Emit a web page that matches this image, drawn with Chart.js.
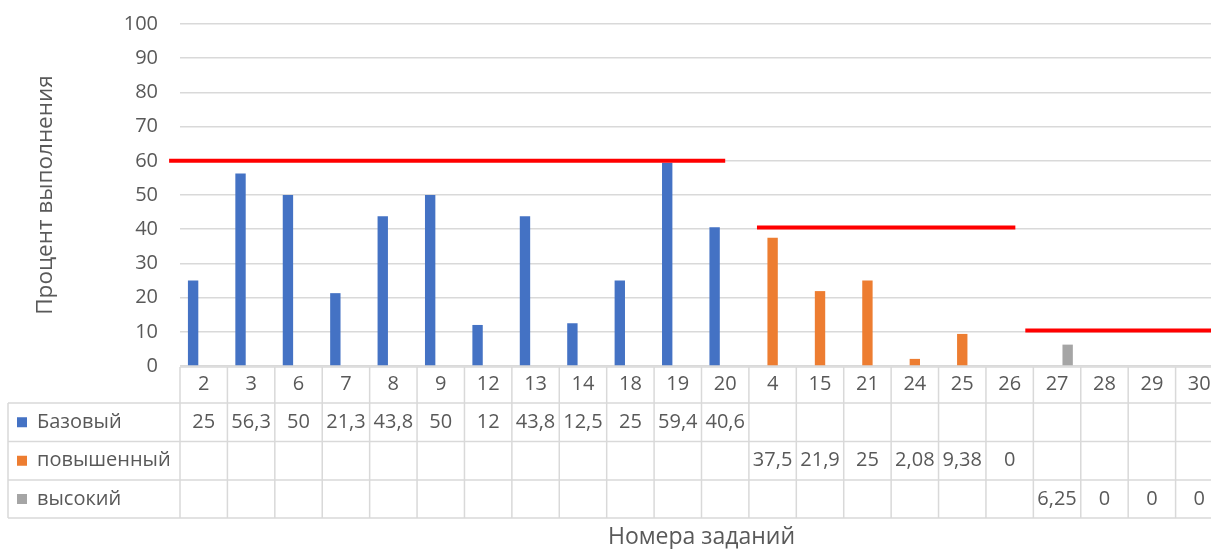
<!DOCTYPE html>
<html>
<head>
<meta charset="utf-8">
<script src="https://cdn.jsdelivr.net/npm/chart.js@4"></script>
<style>
  html, body { margin: 0; padding: 0; background: #fff; overflow: hidden; }
  #wrap { width: 1230px; height: 549px; position: relative; }
</style>
</head>
<body>
<div id="wrap"><canvas id="myChart"></canvas></div>
<script>
// номера заданий
var tasks = ["2","3","6","7","8","9","12","13","14","18","19","20","4","15","21","24","25","26","27","28","29","30"];
var baseVals = [25,56.3,50,21.3,43.8,50,12,43.8,12.5,25,59.4,40.6,null,null,null,null,null,null,null,null,null,null];
var highVals = [null,null,null,null,null,null,null,null,null,null,null,null,37.5,21.9,25,2.08,9.38,0,null,null,null,null];
var topVals  = [null,null,null,null,null,null,null,null,null,null,null,null,null,null,null,null,null,null,6.25,0,0,0];
var seriesNames = ["Базовый","повышенный","высокий"];
var yTicks = [0,10,20,30,40,50,60,70,80,90,100];

// red threshold lines (x in category index units)
var lineLevel = [60, 40.5, 10.4];
var lineStart = [-0.73, 11.67, 17.33];
var lineEnd   = [11.0, 17.12, 21.7];

var colors = ['#4472C4', '#ED7D31', '#A5A5A5'];
var txt = '#595959';
var fontFam = '"Open Sans", "Noto Sans", sans-serif';

function fmt(v) {
  return String(v).replace('.', ',');
}

// position for a fractional category index
function catPx(x, v) {
  var w = x.getPixelForValue(1) - x.getPixelForValue(0);
  return x.getPixelForValue(0) + v * w;
}

var redLines = {
  id: 'redLines',
  afterDatasetsDraw: function(chart) {
    var ctx = chart.ctx, x = chart.scales.x, y = chart.scales.y;
    ctx.save();
    ctx.strokeStyle = '#FF0000';
    ctx.lineWidth = 4;
    for (var i = 0; i < lineLevel.length; i++) {
      var yy = y.getPixelForValue(lineLevel[i]);
      ctx.beginPath();
      ctx.moveTo(catPx(x, lineStart[i]), yy);
      ctx.lineTo(catPx(x, lineEnd[i]), yy);
      ctx.stroke();
    }
    ctx.restore();
  }
};

var tablePlugin = {
  id: 'dataTable',
  afterDraw: function(chart) {
    var ctx = chart.ctx;
    var x = chart.scales.x;
    var w = x.getPixelForValue(1) - x.getPixelForValue(0);
    var top = chart.chartArea.bottom + 1;
    var rows = [top, top + 36, top + 74.5, top + 113, top + 151];
    var tableLeft = 8;
    var right = x.left + w * tasks.length;
    ctx.save();
    ctx.strokeStyle = '#D9D9D9';
    ctx.lineWidth = 1.5;
    ctx.beginPath();
    ctx.moveTo(x.left, rows[0]); ctx.lineTo(right, rows[0]);
    for (var r = 1; r < rows.length; r++) {
      ctx.moveTo(tableLeft, rows[r]); ctx.lineTo(right, rows[r]);
    }
    ctx.moveTo(tableLeft, rows[1]); ctx.lineTo(tableLeft, rows[4]);
    for (var k = 0; k <= tasks.length; k++) {
      var xx = x.left + k * w;
      ctx.moveTo(xx, rows[0]); ctx.lineTo(xx, rows[4]);
    }
    ctx.stroke();

    var all = [baseVals, highVals, topVals];
    ctx.font = '20px ' + fontFam;
    ctx.textBaseline = 'middle';
    for (var s = 0; s < 3; s++) {
      var cy = (rows[s + 1] + rows[s + 2]) / 2;
      ctx.fillStyle = colors[s];
      ctx.fillRect(17, cy - 5, 10, 10);
      ctx.fillStyle = txt;
      ctx.textAlign = 'left';
      ctx.fillText(seriesNames[s], 37, cy);
      ctx.textAlign = 'center';
      for (var i = 0; i < tasks.length; i++) {
        var v = all[s][i];
        if (v === null) continue;
        ctx.fillText(fmt(v), x.getPixelForValue(i), cy);
      }
    }
    ctx.restore();
  }
};

var ctx = document.getElementById("myChart").getContext('2d');
var myChart = new Chart(ctx, {
  type: 'bar',
  data: {
    labels: tasks,
    datasets: [
      { label: seriesNames[0], data: baseVals, backgroundColor: colors[0] },
      { label: seriesNames[1], data: highVals, backgroundColor: colors[1] },
      { label: seriesNames[2], data: topVals, backgroundColor: colors[2] }
    ]
  },
  options: {
    responsive: true,
    maintainAspectRatio: false,
    animation: false,
    barPercentage: 0.98,
    categoryPercentage: 0.67,
    layout: { padding: { top: 24, right: 7, left: 0, bottom: 0 } },
    plugins: { legend: { display: false }, tooltip: { enabled: false } },
    scales: {
      x: {
        type: 'category',
        grid: { display: false, drawTicks: false },
        border: { display: false },
        ticks: { color: txt, font: { size: 20, family: fontFam }, padding: 6, maxRotation: 0, autoSkip: false },
        title: { display: true, text: 'Номера заданий', color: txt, font: { size: 23, family: fontFam, lineHeight: 1 }, padding: { top: 0, bottom: 0 } },
        afterFit: function(scale) { scale.height = 183; }
      },
      y: {
        min: 0, max: 100,
        afterBuildTicks: function(scale) { scale.ticks = yTicks.map(function(v) { return { value: v }; }); },
        grid: { color: '#D9D9D9', lineWidth: 1.5, drawTicks: false },
        border: { display: false },
        ticks: { color: txt, font: { size: 20, family: fontFam }, padding: 22 },
        title: { display: true, text: 'Процент выполнения', color: txt, font: { size: 22.5, family: fontFam, lineHeight: 1 }, padding: { top: 34, bottom: 0 } },
        afterFit: function(scale) { scale.width = 180; scale.paddingTop = 0; scale.paddingBottom = 0; }
      }
    }
  },
  plugins: [redLines, tablePlugin]
});
</script>
</body>
</html>
